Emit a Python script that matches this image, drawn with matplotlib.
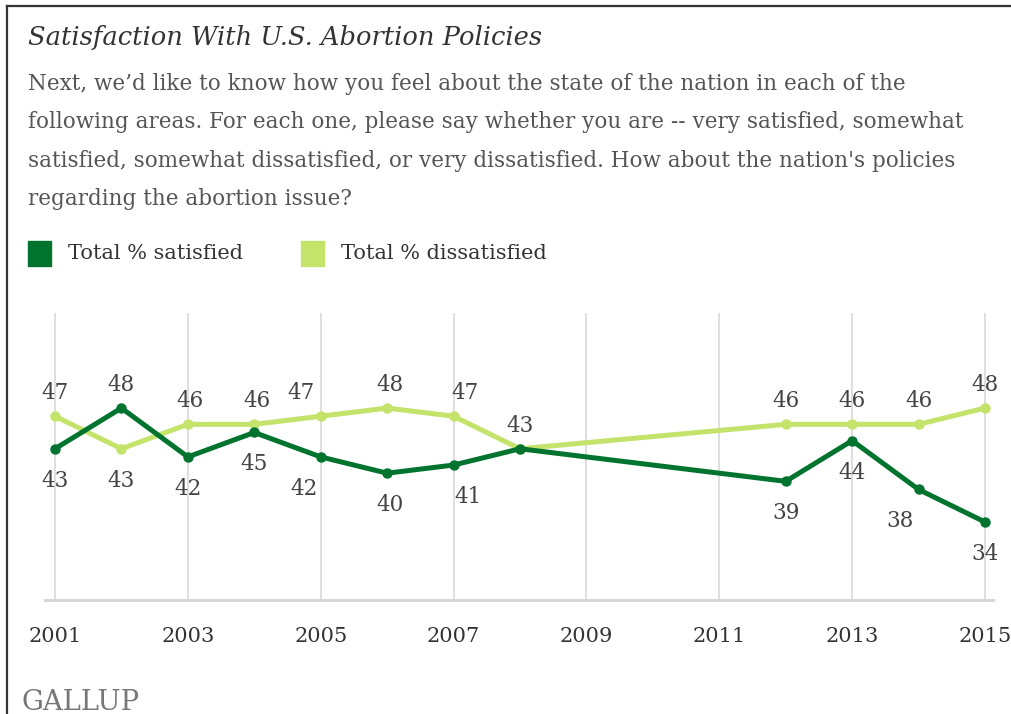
#!/usr/bin/env python3
"""Gallup: satisfaction with U.S. abortion policies, 2001-2015."""

import matplotlib

matplotlib.use("Agg")
import matplotlib.pyplot as plt
from matplotlib.lines import Line2D

years = [2001, 2002, 2003, 2004, 2005, 2006, 2007, 2008, 2012, 2013, 2014, 2015]
satisfied = [43, 48, 42, 45, 42, 40, 41, 43, 39, 44, 38, 34]
dissatisfied = [47, 43, 46, 46, 47, 48, 47, 43, 46, 46, 46, 48]
tick_years = [2001, 2003, 2005, 2007, 2009, 2011, 2013, 2015]

title = "Satisfaction With U.S. Abortion Policies"
question = (
    "Next, we\u2019d like to know how you feel about the state of the nation in each of the\n"
    "following areas. For each one, please say whether you are -- very satisfied, somewhat\n"
    "satisfied, somewhat dissatisfied, or very dissatisfied. How about the nation's policies\n"
    "regarding the abortion issue?"
)

DARK = "#00742f"
LIGHT = "#c3e36b"
TEXT = "#444444"
SERIF = ["DejaVu Serif"]

W, H = 1012, 714


def px(v):
    # pixels -> points at dpi 100
    return v * 72 / 100


# label placement per point: (side, dx in px); None = no label
sat_place = [("b", 0), ("a", 0), ("b", 0), ("b", 0), ("b", -17), ("b", 3),
             ("b", 14), None, ("b", 0), ("b", 0), ("b", -19), ("b", 0)]
dis_place = [("a", 0), ("b", 0), ("a", 2), ("a", 3), ("a", -20), ("a", 3),
             ("a", 11), ("a", 0), ("a", 0), ("a", 0), ("a", 0), ("a", 0)]

fig = plt.figure(figsize=(W / 100, H / 100), dpi=100)

# frame (top and left only, as in the cropped original)
fig.add_artist(Line2D([7 / W, 7 / W], [0, 1 - 6 / H], color="#333333", lw=1.6))
fig.add_artist(Line2D([7 / W, 1], [1 - 6 / H, 1 - 6 / H], color="#333333", lw=1.6))

fig.text(28 / W, 1 - 37 / H, title, family=SERIF, style="italic", fontsize=18.5,
         color="#333333", va="center")
fig.text(28 / W, 1 - 73 / H, question, family=SERIF, fontsize=15.5, color="#555555",
         va="top", linespacing=1.97)

# legend
for x0, col, lab in [(28, DARK, "Total % satisfied"), (301, LIGHT, "Total % dissatisfied")]:
    fig.add_artist(plt.Rectangle((x0 / W, 1 - 266 / H), 23 / W, 25 / H,
                                 color=col, transform=fig.transFigure))
    fig.text((x0 + 40) / W, 1 - 253 / H, lab, family=SERIF, fontsize=15,
             color="#333333", va="center")

fig.text(22 / W, 1 - 702 / H, "GALLUP", family=SERIF, fontsize=19.7, color="#777777",
         va="center")

ax_left, ax_right, ax_top, ax_bot = 45, 993, 313, 600
ax = fig.add_axes([ax_left / W, 1 - ax_bot / H, (ax_right - ax_left) / W, (ax_bot - ax_top) / H])
per_year = (985 - 55) / 14
ax.set_xlim(2001 - (55 - ax_left) / per_year, 2015 + (ax_right - 985) / per_year)
ax.set_ylim(24.42, 59.68)

for s in ["top", "left", "right"]:
    ax.spines[s].set_visible(False)
ax.spines["bottom"].set_color("#d8d8d2")
ax.spines["bottom"].set_linewidth(2.2)
ax.set_yticks([])
ax.set_xticks(tick_years)
ax.set_xticklabels([str(y) for y in tick_years], family=SERIF, fontsize=15, color="#333333")
ax.tick_params(axis="x", length=0, pad=px(27))
ax.grid(axis="x", color="#d6d6d6", lw=1.1)
ax.set_axisbelow(True)

ax.plot(years, dissatisfied, color=LIGHT, lw=3.6, marker="o", ms=6.5, zorder=3, clip_on=False)
ax.plot(years, satisfied, color=DARK, lw=3.6, marker="o", ms=6.5, zorder=4, clip_on=False)

for vals, places in [(satisfied, sat_place), (dissatisfied, dis_place)]:
    for yr, v, pl in zip(years, vals, places):
        if pl is None:
            continue
        side, dx = pl
        dy = 23 if side == "a" else -32
        ax.annotate(str(v), (yr, v), xytext=(px(dx), px(dy)), textcoords="offset points",
                    ha="center", va="center", family=SERIF, fontsize=15.5, color=TEXT,
                    zorder=5, annotation_clip=False)

fig.savefig("out.png", dpi=100)
